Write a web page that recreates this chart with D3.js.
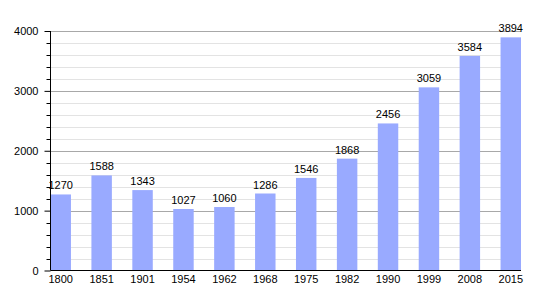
<!DOCTYPE html>
<html><head><meta charset="utf-8">
<script src="https://cdn.jsdelivr.net/npm/d3@7"></script>
<style>body{margin:0;background:#fff}svg{display:block}text{font-family:"Liberation Sans",Arial,sans-serif;font-size:11px;fill:#000}</style>
</head><body><svg id="c" width="550" height="300"></svg>
<script>
const years = ["1800","1851","1901","1954","1962","1968","1975","1982","1990","1999","2008","2015"];
const population = [1270,1588,1343,1027,1060,1286,1546,1868,2456,3059,3584,3894];
const yTicks = [0,1000,2000,3000,4000];

const svg = d3.select("#c");
const L = 50.5, R = 521, T = 31, B = 270.5;
const x = d3.scaleBand().domain(years).range([L, R]).paddingInner(0.5).paddingOuter(0);
const y = d3.scaleLinear().domain([0,4000]).range([B, T]);

const minor = d3.range(0, 4001, 200).filter(v => v % 1000 !== 0);
svg.append("g").selectAll("line").data(minor).join("line")
  .attr("x1", L).attr("x2", R).attr("y1", d => Math.round(y(d))+0.5).attr("y2", d => Math.round(y(d))+0.5)
  .attr("stroke", "#e3e3e3");
svg.append("g").selectAll("line").data(yTicks.filter(d=>d>0)).join("line")
  .attr("x1", L).attr("x2", R).attr("y1", d => Math.round(y(d))+0.5).attr("y2", d => Math.round(y(d))+0.5)
  .attr("stroke", "#a8a8a8");

svg.append("g").selectAll("rect").data(population).join("rect")
  .attr("x", (d,i) => x(years[i])).attr("width", x.bandwidth())
  .attr("y", d => y(d)).attr("height", d => B - y(d))
  .attr("fill", "#99aaff");

svg.append("g").selectAll("text").data(population).join("text")
  .attr("x", (d,i) => x(years[i]) + x.bandwidth()/2).attr("y", d => y(d) - 5)
  .attr("text-anchor", "middle").text(d => d);

// minor ticks on y axis
svg.append("g").selectAll("line").data(minor).join("line")
  .attr("x1", L-4).attr("x2", L).attr("y1", d => Math.round(y(d))+0.5).attr("y2", d => Math.round(y(d))+0.5)
  .attr("stroke", "#000");

const yAxis = d3.axisLeft(y).tickValues(yTicks).tickSize(6).tickPadding(6).tickFormat(d3.format("d"));
const gy = svg.append("g").attr("transform", `translate(${L},0)`).call(yAxis);
gy.select(".domain").remove();
gy.selectAll("text").style("font-size","11px").style("font-family","'Liberation Sans',Arial,sans-serif");

const xAxis = d3.axisBottom(x).tickSize(0).tickPadding(5);
const gx = svg.append("g").attr("transform", `translate(0,${B})`).call(xAxis);
gx.select(".domain").remove();
gx.selectAll("text").style("font-size","11px").style("font-family","'Liberation Sans',Arial,sans-serif");

svg.append("line").attr("x1", L).attr("x2", L).attr("y1", T).attr("y2", B).attr("stroke","#000");
svg.append("line").attr("x1", L).attr("x2", R).attr("y1", B).attr("y2", B).attr("stroke","#000");
</script></body></html>
